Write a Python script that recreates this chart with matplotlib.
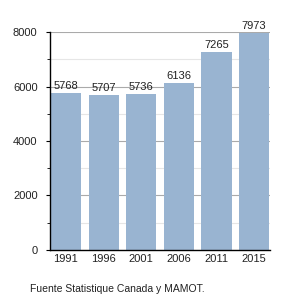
import numpy as np
import matplotlib
matplotlib.use("Agg")
import matplotlib.pyplot as plt
from matplotlib.ticker import MultipleLocator

years = ["1991", "1996", "2001", "2006", "2011", "2015"]
population = [5768, 5707, 5736, 6136, 7265, 7973]

plt.rcParams['font.family'] = ['Liberation Sans', 'DejaVu Sans']

fig = plt.figure(figsize=(3, 3), dpi=100)
ax = fig.add_axes([0.167, 0.167, 0.733, 0.726])

x = np.arange(len(years))
bars = ax.bar(x, population, width=0.8, color="#99b4d1", zorder=2)

for xi, v in zip(x, population):
    ax.text(xi, v + 70, str(v), ha="center", va="bottom", fontsize=8, color="#222222")

ax.set_xlim(-0.42, len(years) - 0.58)
ax.set_ylim(0, 8000)
ax.set_xticks(x)
ax.set_xticklabels(years)
ax.yaxis.set_major_locator(MultipleLocator(2000))
ax.yaxis.set_minor_locator(MultipleLocator(1000))
ax.tick_params(axis="x", length=0, labelsize=8, pad=3, labelcolor="#222222")
ax.tick_params(axis="y", which="major", length=3, labelsize=8, pad=6, labelcolor="#222222")
ax.tick_params(axis="y", which="minor", length=2)

ax.grid(axis="y", which="major", color="#aaaaaa", linewidth=0.8, zorder=0)
ax.grid(axis="y", which="minor", color="#e6e6e6", linewidth=0.8, zorder=0)
ax.set_axisbelow(True)

ax.spines["top"].set_visible(False)
ax.spines["right"].set_visible(False)
ax.spines["left"].set_linewidth(1.0)
ax.spines["bottom"].set_linewidth(1.0)

fig.text(0.1, 0.037, "Fuente Statistique Canada y MAMOT.", fontsize=7.5,
         ha="left", va="center", color="#222222")

fig.savefig("out.png", dpi=100)
